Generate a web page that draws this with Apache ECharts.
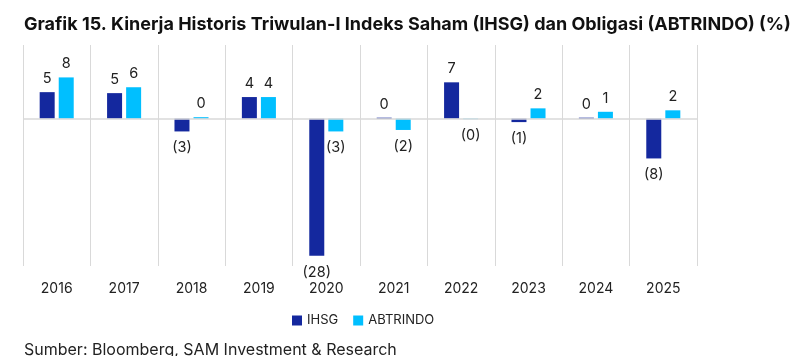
<!DOCTYPE html>
<html>
<head>
<meta charset="utf-8">
<script src="https://cdn.jsdelivr.net/npm/echarts@6/dist/echarts.min.js"></script>
<style>
html,body{margin:0;padding:0;background:#fff;}
#c{width:801px;height:356px;}
</style>
</head>
<body>
<div id="c"></div>
<script>
const categories = ['2016','2017','2018','2019','2020','2021','2022','2023','2024','2025'];
const ihsg = [5.4, 5.2, -2.6, 4.4, -27.9, 0.2, 7.4, -0.7, 0.2, -8.1];
const abtrindo = [8.4, 6.4, 0.3, 4.4, -2.6, -2.3, -0.1, 2.1, 1.4, 1.7];
const seriesNames = ['IHSG', 'ABTRINDO'];

const FONT = 'Inter';
function fmt(p){
  const r = Math.round(Math.abs(p.value));
  return p.value < 0 ? '(' + r + ')' : String(r);
}
function withLabels(vals){
  return vals.map(v => ({
    value: v,
    label: v < 0 ? { position: 'bottom', distance: 9 } : { position: 'top', distance: 6 }
  }));
}
const labelStyle = { show: true, formatter: fmt, color: '#222', fontSize: 14.5, fontFamily: FONT };

const chart = echarts.init(document.getElementById('c'), null, {renderer: 'canvas'});
chart.setOption({
  animation: false,
  title: [{
    text: 'Grafik 15. Kinerja Historis Triwulan-I Indeks Saham (IHSG) dan Obligasi (ABTRINDO) (%)',
    left: 19, top: 11,
    textStyle: { fontFamily: FONT, fontWeight: 'bold', fontSize: 18, color: '#111' }
  }, {
    text: 'Sumber: Bloomberg, SAM Investment & Research',
    left: 19, top: 337,
    textStyle: { fontFamily: FONT, fontWeight: 'normal', fontSize: 16, color: '#222' }
  }],
  legend: {
    data: seriesNames,
    left: 287, top: 309,
    itemWidth: 10, itemHeight: 10, itemGap: 15,
    icon: 'rect',
    textStyle: { fontFamily: FONT, fontSize: 13, color: '#222' }
  },
  grid: { left: 23, right: 104, top: 45, bottom: 90, containLabel: false },
  xAxis: {
    type: 'category',
    data: categories,
    position: 'bottom',
    axisLine: { show: false },
    axisTick: { show: false },
    splitLine: { show: true, lineStyle: { color: '#d9d9d9', width: 1 } },
    axisLabel: { color: '#222', fontSize: 14, fontFamily: FONT, margin: 16 }
  },
  yAxis: {
    type: 'value', min: -30, max: 15, interval: 15,
    show: false,
    splitLine: { show: false }
  },
  series: [{
    name: seriesNames[0], type: 'bar',
    data: withLabels(ihsg),
    barWidth: 15, barGap: '27%',
    itemStyle: { color: '#14289e' },
    label: labelStyle,
    markLine: {
      silent: true, symbol: 'none',
      label: { show: false },
      lineStyle: { color: '#d9d9d9', type: 'solid', width: 1.5 },
      data: [{ yAxis: 0 }]
    }
  }, {
    name: seriesNames[1], type: 'bar',
    data: withLabels(abtrindo),
    barWidth: 15, barGap: '27%',
    itemStyle: { color: '#00bfff' },
    label: labelStyle
  }]
});
</script>
</body>
</html>
